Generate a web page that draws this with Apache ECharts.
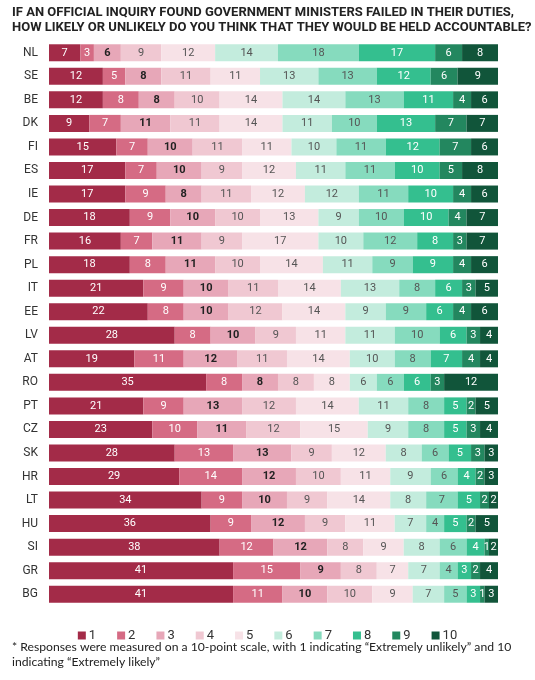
<!DOCTYPE html>
<html>
<head>
<meta charset="utf-8">
<script src="https://cdn.jsdelivr.net/npm/echarts@6/dist/echarts.min.js"></script>
<style>
html,body{margin:0;padding:0;background:#fff;}
#main{width:535px;height:680px;}
</style>
</head>
<body>
<div id="main"></div>
<script>
// countries, top to bottom
var countries = ["NL","SE","BE","DK","FI","ES","IE","DE","FR","PL","IT","EE","LV","AT","RO","PT","CZ","SK","HR","LT","HU","SI","GR","BG"];
var scale = ["1","2","3","4","5","6","7","8","9","10"];

// share of answers per score (%), one array per score, in country order
var s1  = [7,12,12,9,15,17,17,18,16,18,21,22,28,19,35,21,23,28,29,34,36,38,41,41];
var s2  = [3,5,8,7,7,7,9,9,7,8,9,8,8,11,8,9,10,13,14,9,9,12,15,11];
var s3  = [6,8,8,11,10,10,8,10,11,11,10,10,10,12,8,13,11,13,12,10,12,12,9,10];
var s4  = [9,11,10,11,11,9,11,10,9,10,11,12,9,11,8,12,12,9,10,9,9,8,8,10];
var s5  = [12,11,14,14,11,12,12,13,17,14,14,14,11,14,8,14,15,12,11,14,11,9,7,9];
var s6  = [14,13,14,11,10,11,12,9,10,11,13,9,11,10,6,11,9,8,9,8,7,8,7,7];
var s7  = [18,13,13,10,11,11,11,10,12,9,8,9,10,8,6,8,8,6,6,7,4,6,4,5];
var s8  = [17,12,11,13,12,10,10,10,8,9,6,6,6,7,6,5,5,5,4,5,5,4,3,3];
var s9  = [6,6,4,7,7,5,4,4,3,4,3,4,3,4,3,2,3,3,2,2,2,1,2,1];
var s10 = [8,9,6,7,6,8,6,7,7,6,5,6,4,4,12,5,4,3,3,2,5,2,4,3];

var allData = [s1,s2,s3,s4,s5,s6,s7,s8,s9,s10];
var colors = ["#a32b48","#d56b84","#e7a7b8","#f0c8d2","#f7e2e7","#c3ecdd","#86dbbe","#34bf8f","#23875f","#11553a"];
var labelColors = ["#fff","#fff","#222","#555","#555","#555","#555","#fff","#fff","#fff"];

var chart = echarts.init(document.getElementById("main"));

var series = [];
for (var i = 0; i < scale.length; i++) {
	series.push({
		name: scale[i],
		type: "bar",
		stack: "all",
		barWidth: 17,
		data: allData[i],
		itemStyle: {color: colors[i]},
		label: {
			show: true,
			position: "inside",
			color: labelColors[i],
			fontFamily: "Roboto",
			fontSize: 11,
			fontWeight: i == 2 ? "bold" : "normal",
			formatter: "{c}"
		}
	});
}

var option = {
	backgroundColor: "#fff",
	animation: false,
	color: colors,
	grid: {left: 49, right: 37, top: 41, bottom: 74},
	xAxis: {
		type: "value",
		min: 0,
		max: 100,
		show: false
	},
	yAxis: {
		type: "category",
		data: countries,
		inverse: true,
		axisLine: {show: false},
		axisTick: {show: false},
		axisLabel: {color: "#333", fontFamily: "Roboto", fontSize: 12, margin: 11}
	},
	legend: {
		data: scale,
		top: 624,
		left: "center",
		icon: "rect",
		itemWidth: 8,
		itemHeight: 8,
		itemGap: 21,
		textStyle: {color: "#333", fontFamily: "Roboto", fontSize: 13, padding: [0,0,0,-2]}
	},
	graphic: [
		{type: "text", left: 12, top: 6, style: {text: "IF AN OFFICIAL INQUIRY FOUND GOVERNMENT MINISTERS FAILED IN THEIR DUTIES,", fill: "#222", font: "bold 13px Roboto"}},
		{type: "text", left: 12, top: 21, style: {text: "HOW LIKELY OR UNLIKELY DO YOU THINK THAT THEY WOULD BE HELD ACCOUNTABLE?", fill: "#222", font: "bold 13px Roboto"}},
		{type: "text", left: 12, top: 641, style: {text: "* Responses were measured on a 10-point scale, with 1 indicating \u201cExtremely unlikely\u201d and 10", fill: "#222", font: "12.2px Lato"}},
		{type: "text", left: 12, top: 656, style: {text: "indicating \u201cExtremely likely\u201d", fill: "#222", font: "12.2px Lato"}}
	],
	series: series
};

chart.setOption(option);
</script>
</body>
</html>
